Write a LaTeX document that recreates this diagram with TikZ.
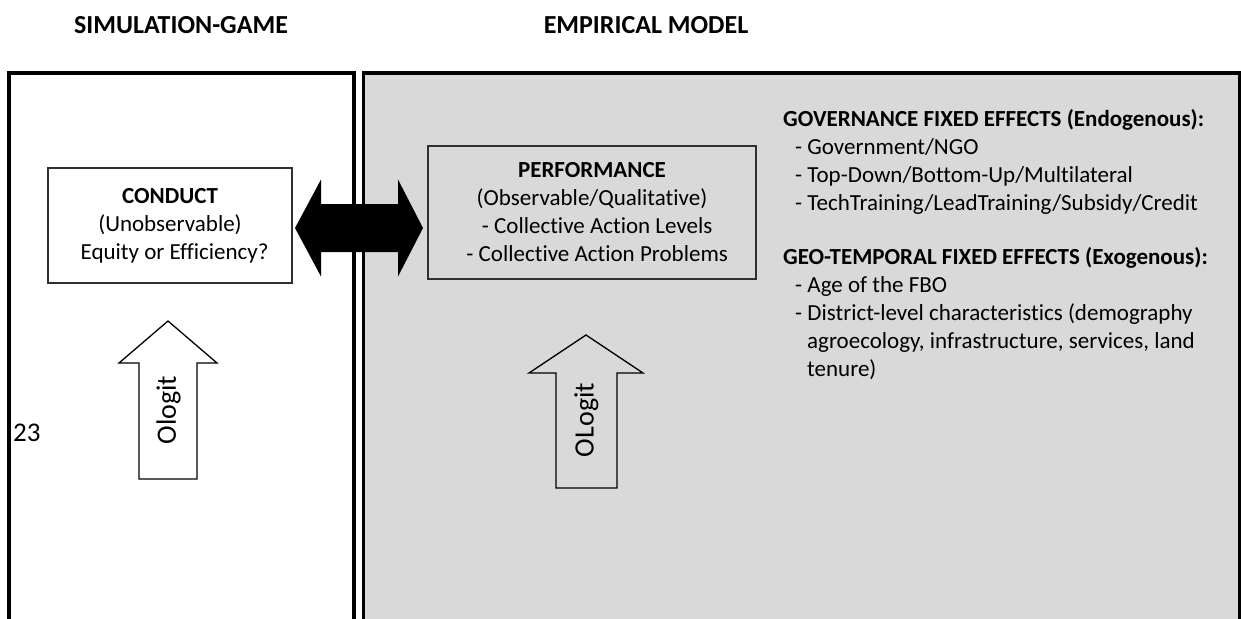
\documentclass[tikz,border=0pt]{standalone}
\usepackage{fontspec}
\setmainfont[Ligatures={NoCommon}]{Carlito}
\definecolor{panelgray}{HTML}{D9D9D9}
\definecolor{boxline}{HTML}{303030}
\begin{document}
\begin{tikzpicture}[x=1pt,y=-1pt,
  txt/.style={font=\fontsize{23}{28}\selectfont, inner sep=0pt},
  title/.style={font=\fontsize{26}{30}\selectfont\bfseries, inner sep=0pt},
  panel/.style={line width=3.6pt},
  box/.style={draw=boxline, line width=1.3pt, inner sep=0pt, align=center,
    font=\fontsize{23}{28}\selectfont},
  blockarrow/.style={draw=black, line width=1.3pt, line join=miter},
  arrowlabel/.style={font=\fontsize{28}{30}\selectfont, inner sep=0pt, rotate=90},
  item/.style={txt, anchor=base west}]
\useasboundingbox (0,0) rectangle (1241,618);
\begin{scope}
\clip (0,0) rectangle (1241,618);

% column titles
\node[title] (ttlgame) at (181,25) {SIMULATION-GAME};
\node[title] (ttlemp) at (646,25) {EMPIRICAL MODEL};

% right (empirical) panel
\fill[panelgray] (363.3,73) rectangle (1239.5,640);
\draw[panel] (363.3,640) -- (363.3,73) -- (1239.5,73) -- (1239.5,640);
% left (simulation) panel
\draw[panel] (8.7,640) -- (8.7,73) -- (354,73) -- (354,640);

% main boxes
\node[box, fill=white, minimum width=244pt, minimum height=115pt] (conduct) at (170,225.5)
  {\textbf{CONDUCT}\\(Unobservable)\\\hspace{0.4em}Equity or Efficiency?};
\node[box, fill=panelgray, minimum width=328pt, minimum height=133pt] (perf) at (592,212.5)
  {\textbf{PERFORMANCE}\\(Observable/Qualitative)\\\hspace{0.45em}- Collective Action Levels\\\hspace{0.45em}- Collective Action Problems};

% two-headed arrow between conduct and performance
\fill[black] (295,228) -- (321,179.5) -- (321,204) -- (398,204) -- (398,179.5)
  -- (423,228) -- (398,276.5) -- (398,252) -- (321,252) -- (321,276.5) -- cycle;

% upward block arrows
\draw[blockarrow, fill=white] (139,479) -- (139,363) -- (119,363) -- (168,321)
  -- (217,363) -- (197,363) -- (197,479) -- cycle;
\node[arrowlabel] (ologit) at (168.5,410) {Ologit};
\draw[blockarrow, fill=panelgray] (556,488) -- (556,373) -- (529,373) -- (586,335)
  -- (643,373) -- (617,373) -- (617,488) -- cycle;
\node[arrowlabel] (OLogit) at (586.5,420) {OLogit};

% page number
\node[txt, anchor=west, font=\fontsize{27}{30}\selectfont] (pagenum) at (13,433) {23};

% fixed-effects lists
\node[item, font=\fontsize{23}{28}\selectfont\bfseries] (gov) at (783,126.5) {GOVERNANCE FIXED EFFECTS (Endogenous):};
\node[item] (gov1) at (795,154.5) {- Government/NGO};
\node[item] (gov2) at (795,182.5) {- Top-Down/Bottom-Up/Multilateral};
\node[item] (gov3) at (795,210.5) {- TechTraining/LeadTraining/Subsidy/Credit};
\node[item, font=\fontsize{23}{28}\selectfont\bfseries] (geo) at (783,264.5) {GEO-TEMPORAL FIXED EFFECTS (Exogenous):};
\node[item] (geo1) at (795,292.5) {- Age of the FBO};
\node[item] (geo2) at (795,320.5) {- District-level characteristics (demography};
\node[item] (geo3) at (807,348.5) {agroecology, infrastructure, services, land};
\node[item] (geo4) at (807,376.5) {tenure)};
\end{scope}
\end{tikzpicture}
\end{document}
